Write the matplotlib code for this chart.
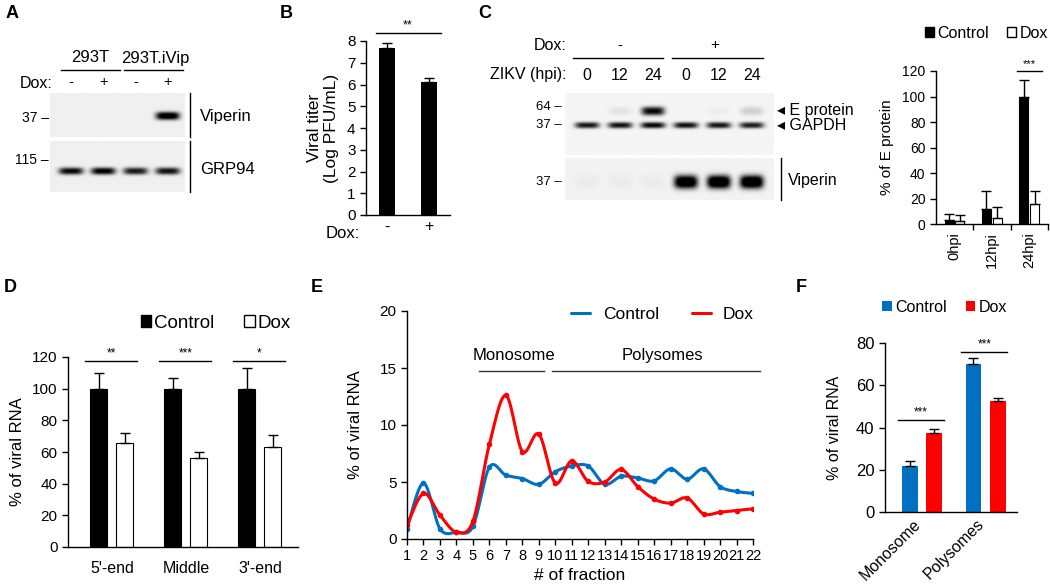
import numpy as np
import matplotlib
matplotlib.use("Agg")
import matplotlib.pyplot as plt
from matplotlib.lines import Line2D
from matplotlib.patches import Patch

plt.rcParams['font.family'] = ['Liberation Sans', 'DejaVu Sans']
plt.rcParams['axes.linewidth'] = 1.0

# ---- data ----
# A: western blot (band intensity per lane)
a_groups = ['293T', '293T.iVip']
a_dox = ['-', '+', '-', '+']
a_viperin = [0.0, 0.0, 0.0, 1.1]
a_grp94 = [0.92, 0.98, 0.85, 0.88]

# B: viral titer
b_dox = ['-', '+']
b_titer = [7.7, 6.1]
b_err = [0.22, 0.2]

# C: blot
c_dox = ['-', '+']
c_hpi = ['0', '12', '24', '0', '12', '24']
c_eprot = [0.0, 0.07, 0.95, 0.0, 0.03, 0.15]
c_gapdh = [0.88, 0.9, 0.95, 0.9, 0.88, 0.85]
c_viperin = [0.03, 0.03, 0.03, 1.2, 1.25, 1.25]

# C: quantification
c_groups = ['0hpi', '12hpi', '24hpi']
c_ctrl = [3, 12, 100]
c_ctrl_err = [5, 14, 13]
c_dx = [2, 5, 16]
c_dx_err = [5, 8, 10]

# D: viral RNA
d_groups = ["5'-end", 'Middle', "3'-end"]
d_ctrl = [100, 100, 100]
d_ctrl_err = [10, 7, 13]
d_dx = [66, 56, 63]
d_dx_err = [6, 4, 8]
d_sig = ['**', '***', '*']

# E: polysome profile
e_fraction = list(range(1, 23))
e_ctrl = [0.9, 4.9, 0.9, 0.6, 1.1, 6.3, 5.6, 5.3, 4.8, 5.9, 6.4, 6.4,
          4.8, 5.5, 5.35, 5.1, 6.15, 5.25, 6.15, 4.6, 4.17, 4.0]
e_dx = [1.22, 4.0, 2.1, 0.6, 1.55, 8.3, 12.6, 7.67, 9.2, 4.9, 6.85, 5.05,
        5.0, 6.1, 4.6, 3.5, 3.15, 3.6, 2.2, 2.35, 2.5, 2.65]

# F: monosome vs polysomes
f_groups = ['Monosome', 'Polysomes']
f_ctrl = [22, 70]
f_ctrl_err = [2, 3]
f_dx = [37.5, 52.5]
f_dx_err = [2, 1.5]

BLUE = '#0070C0'
RED = '#FF0000'

W, H = 1050, 587
fig = plt.figure(figsize=(W / 100, H / 100), dpi=100)


def px_axes(x0, y0, x1, y1):
    return fig.add_axes([x0 / W, 1 - y1 / H, (x1 - x0) / W, (y1 - y0) / H])


def T(x, y, s, **kw):
    kw.setdefault('ha', 'center')
    kw.setdefault('va', 'center')
    kw.setdefault('fontsize', 11)
    fig.text(x / W, 1 - y / H, s, **kw)


def L(x0, y0, x1, y1, lw=1.0):
    fig.add_artist(Line2D([x0 / W, x1 / W], [1 - y0 / H, 1 - y1 / H],
                          transform=fig.transFigure, color='k', lw=lw))


def blot(rect, xlim, rows, bg=0.06):
    ax = px_axes(*rect)
    xs = np.linspace(xlim[0], xlim[1], 500)
    ys = np.linspace(0, 1, 200)
    X, Y = np.meshgrid(xs, ys)
    img = np.full_like(X, bg)
    for yc, hw, hh, vals in rows:
        for i, v in enumerate(vals):
            img += v * np.exp(-np.abs((X - (i + 1)) / hw) ** 4) * \
                np.exp(-np.abs((Y - yc) / hh) ** 2.5)
    ax.imshow(np.clip(img, 0, 1), cmap='gray_r', vmin=0, vmax=1,
              extent=(xlim[0], xlim[1], 1, 0), aspect='auto',
              interpolation='bilinear')
    ax.set_xlim(xlim)
    ax.set_ylim(1, 0)
    ax.axis('off')
    return ax


def style(ax, fs=10):
    ax.spines['top'].set_visible(False)
    ax.spines['right'].set_visible(False)
    ax.tick_params(direction='out', length=4, width=1, labelsize=fs)


def smooth(x, y, n=24):
    x = np.asarray(x, float)
    y = np.asarray(y, float)
    px = np.concatenate([[x[0]], x, [x[-1]]])
    py = np.concatenate([[y[0]], y, [y[-1]]])
    xo, yo = [], []
    t = np.linspace(0, 1, n, endpoint=False)
    for i in range(1, len(px) - 2):
        for arr, out in ((px, xo), (py, yo)):
            p0, p1, p2, p3 = arr[i - 1], arr[i], arr[i + 1], arr[i + 2]
            out.extend(0.5 * (2 * p1 + (-p0 + p2) * t +
                              (2 * p0 - 5 * p1 + 4 * p2 - p3) * t ** 2 +
                              (-p0 + 3 * p1 - 3 * p2 + p3) * t ** 3))
    xo.append(x[-1])
    yo.append(y[-1])
    return np.array(xo), np.array(yo)


def errs(ax, xs, vals, err):
    ax.errorbar(xs, vals, yerr=[np.zeros(len(err)), err], fmt='none',
                ecolor='k', elinewidth=1, capsize=3.5, capthick=1, clip_on=False)


# ---- panel letters ----
for lab, x, y in [('A', 12, 13), ('B', 286, 13), ('C', 485, 13),
                  ('D', 10, 288), ('E', 317, 288), ('F', 801, 288)]:
    T(x, y, lab, fontsize=13, fontweight='bold')

# ---- A ----
T(90, 58, a_groups[0], fontsize=12)
T(155, 58, a_groups[1], fontsize=12)
L(61, 70, 120, 70)
L(124, 70, 183, 70)
T(53, 83, 'Dox:', ha='right', fontsize=11.5)
for i, s in enumerate(a_dox):
    T(71 + i * 32.3, 82, s, fontsize=10.5)
blot((50, 93, 185, 137), (0.35, 4.53), [(0.52, 0.37, 0.09, a_viperin)])
blot((50, 141, 185, 192), (0.35, 4.53), [(0.59, 0.38, 0.07, a_grp94)])
T(49, 118, '37 –', ha='right', fontsize=10)
T(49, 160, '115 –', ha='right', fontsize=10)
L(190, 93, 190, 137)
L(190, 141, 190, 192)
T(200, 117, 'Viperin', ha='left', fontsize=12)
T(200, 170, 'GRP94', ha='left', fontsize=12)

# ---- B ----
ax = px_axes(366, 41, 450, 215)
style(ax, 11)
xb = np.arange(len(b_titer))
ax.bar(xb, b_titer, width=0.4, color='k')
errs(ax, xb, b_titer, b_err)
ax.set_xlim(-0.5, 1.5)
ax.set_ylim(0, 8)
ax.set_yticks(range(0, 9))
ax.set_xticks([])
ax.plot([-0.26, 1.29], [8.37, 8.37], color='k', lw=1, clip_on=False)
ax.text(0.5, 8.45, '**', ha='center', va='bottom', fontsize=9)
ax.set_ylabel('Viral titer\n(Log PFU/mL)', fontsize=12.5, labelpad=6,
              linespacing=1.15)
for i, s in enumerate(b_dox):
    ax.text(i, -0.55, s, ha='center', va='center', fontsize=11.5)
T(360, 233, 'Dox:', ha='right', fontsize=12)

# ---- C blot ----
T(567, 46, 'Dox:', ha='right', fontsize=11.5)
T(620, 45, c_dox[0], fontsize=11)
T(715, 45, c_dox[1], fontsize=11)
L(573, 58, 663, 58)
L(672, 58, 763, 58)
T(567, 75, 'ZIKV (hpi):', ha='right', fontsize=11.5)
for i, s in enumerate(c_hpi):
    T(587 + i * 33, 75, s, fontsize=11.5)
blot((565, 93, 774, 155), (0.33, 6.67),
     [(0.29, 0.35, 0.07, c_eprot), (0.52, 0.37, 0.05, c_gapdh)], bg=0.04)
blot((565, 158, 774, 200), (0.33, 6.67),
     [(0.57, 0.36, 0.16, c_viperin)], bg=0.05)
T(562, 107, '64 –', ha='right', fontsize=9.5)
T(562, 125, '37 –', ha='right', fontsize=9.5)
T(562, 182, '37 –', ha='right', fontsize=9.5)
T(777, 111, '◂ E protein', ha='left', fontsize=11.5)
T(777, 125, '◂ GAPDH', ha='left', fontsize=11.5)
L(781, 158, 781, 200)
T(788, 181, 'Viperin', ha='left', fontsize=11.5)

# ---- C quantification ----
ax = px_axes(936, 71, 1048, 224)
style(ax, 10)
xc = np.arange(len(c_groups))
ax.bar(xc - 0.15, c_ctrl, width=0.24, color='k', edgecolor='k', lw=0.8, label='Control')
ax.bar(xc + 0.14, c_dx, width=0.24, color='white', edgecolor='k', lw=0.8, label='Dox')
errs(ax, xc - 0.15, c_ctrl, c_ctrl_err)
errs(ax, xc + 0.14, c_dx, c_dx_err)
ax.set_xlim(-0.5, 2.5)
ax.set_ylim(0, 120)
ax.set_yticks(range(0, 121, 20))
ax.set_xticks(xc)
ax.set_xticklabels(c_groups, rotation=90, fontsize=10.5)
ax.tick_params(axis='x', length=0, pad=6)
ax.set_xticks([0.5, 1.5, 2.5], minor=True)
ax.tick_params(axis='x', which='minor', length=4, width=1)
ax.plot([2 - 0.33, 2 + 0.33], [120, 120], color='k', lw=1, clip_on=False)
ax.text(2, 121.5, '***', ha='center', va='bottom', fontsize=8)
ax.set_ylabel('% of E protein', fontsize=11, labelpad=6)
ax.legend(handles=[Patch(facecolor='k', edgecolor='k'), Patch(facecolor='white', edgecolor='k')],
          labels=['Control', 'Dox'], ncol=2, frameon=False, loc='center right',
          bbox_to_anchor=(1048 / W, 1 - 33 / H), bbox_transform=fig.transFigure,
          fontsize=11.5, handlelength=0.6, handleheight=0.6, handletextpad=0.2,
          columnspacing=1.1, borderpad=0, borderaxespad=0)

# ---- D ----
ax = px_axes(68, 357, 298, 547)
style(ax, 11)
xd = np.arange(len(d_groups))
ax.bar(xd - 0.18, d_ctrl, width=0.23, color='k', edgecolor='k', lw=0.8)
ax.bar(xd + 0.17, d_dx, width=0.23, color='white', edgecolor='k', lw=0.8)
errs(ax, xd - 0.18, d_ctrl, d_ctrl_err)
errs(ax, xd + 0.17, d_dx, d_dx_err)
ax.set_xlim(-0.595, 2.513)
ax.set_ylim(0, 120)
ax.set_yticks(range(0, 121, 20))
ax.set_xticks(xd)
ax.set_xticklabels(d_groups, fontsize=11.5)
ax.tick_params(axis='x', length=0, pad=10)
for i, s in enumerate(d_sig):
    ax.plot([i - 0.36, i + 0.34], [117.5, 117.5], color='k', lw=1, clip_on=False)
    ax.text(i - 0.01, 118.5, s, ha='center', va='bottom', fontsize=8.5)
ax.set_ylabel('% of viral RNA', fontsize=12, labelpad=5)
ax.legend(handles=[Patch(facecolor='k', edgecolor='k'), Patch(facecolor='white', edgecolor='k')],
          labels=['Control', 'Dox'], ncol=2, frameon=False, loc='center left',
          bbox_to_anchor=(141 / W, 1 - 323 / H), bbox_transform=fig.transFigure,
          fontsize=13.5, handlelength=0.55, handleheight=0.55, handletextpad=0.15,
          columnspacing=1.6, borderpad=0, borderaxespad=0)

# ---- E ----
ax = px_axes(407, 311, 753, 539)
style(ax, 11)
for vals, col, lab in [(e_ctrl, BLUE, 'Control'), (e_dx, RED, 'Dox')]:
    sx, sy = smooth(e_fraction, vals)
    ax.plot(sx, sy, color=col, lw=2.2, label=lab, solid_capstyle='round')
    ax.plot(e_fraction, vals, 'o', color=col, ms=3)
ax.set_xlim(1, 22)
ax.set_ylim(0, 20)
ax.set_xticks(e_fraction)
ax.set_yticks([0, 5, 10, 15, 20])
ax.tick_params(axis='x', pad=3, labelsize=10.5)
ax.set_xlabel('# of fraction', fontsize=12.5, labelpad=4)
ax.set_ylabel('% of viral RNA', fontsize=12, labelpad=12)
ax.plot([5.37, 9.31], [14.75, 14.75], color='#333333', lw=1, clip_on=False)
ax.plot([9.8, 22.4], [14.75, 14.75], color='#333333', lw=1, clip_on=False)
ax.text(7.5, 16.1, 'Monosome', ha='center', va='center', fontsize=12)
ax.text(16.5, 16.1, 'Polysomes', ha='center', va='center', fontsize=12)
ax.legend(ncol=2, frameon=False, loc='center right',
          bbox_to_anchor=(754 / W, 1 - 314 / H), bbox_transform=fig.transFigure,
          fontsize=12.5, handlelength=1.1, handletextpad=0.7, columnspacing=1.9,
          borderpad=0, borderaxespad=0)

# ---- F ----
ax = px_axes(885, 343, 1017, 512)
style(ax, 12)
xf = np.arange(len(f_groups))
ax.bar(xf - 0.19, f_ctrl, width=0.25, color=BLUE, label='Control')
ax.bar(xf + 0.19, f_dx, width=0.25, color=RED, label='Dox')
errs(ax, xf - 0.19, f_ctrl, f_ctrl_err)
errs(ax, xf + 0.19, f_dx, f_dx_err)
ax.set_xlim(-0.583, 1.496)
ax.set_ylim(0, 80)
ax.set_yticks(range(0, 81, 20))
ax.set_xticks(xf + 0.03)
ax.set_xticklabels(f_groups, rotation=45, ha='right', fontsize=11.5)
ax.tick_params(axis='x', length=0, pad=3)
for i, yv in enumerate([43.6, 75.8]):
    ax.plot([i - 0.38, i + 0.34], [yv, yv], color='k', lw=1, clip_on=False)
    ax.text(i - 0.02, yv + 0.8, '***', ha='center', va='bottom', fontsize=8.5)
ax.set_ylabel('% of viral RNA', fontsize=11.5, labelpad=10)
ax.legend(ncol=2, frameon=False, loc='center left',
          bbox_to_anchor=(882 / W, 1 - 307 / H), bbox_transform=fig.transFigure,
          fontsize=11.5, handlelength=0.6, handleheight=0.6, handletextpad=0.2,
          columnspacing=1.2, borderpad=0, borderaxespad=0)

fig.savefig('out.png', dpi=100)
